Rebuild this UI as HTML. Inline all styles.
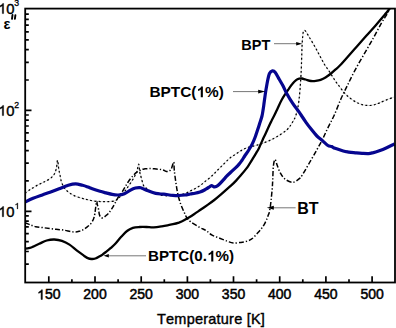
<!DOCTYPE html><html><head><meta charset="utf-8"><style>html,body{margin:0;padding:0;background:#fff;width:396px;height:328px;overflow:hidden}svg{display:block}text{font-family:"Liberation Sans",sans-serif;font-kerning:none}</style></head><body>
<svg width="396" height="328" viewBox="0 0 396 328">
<defs><clipPath id="c"><rect x="25.2" y="8.6" width="369.8" height="273.9"/></clipPath></defs>
<g clip-path="url(#c)" fill="none" stroke-linejoin="round">
<path d="M25.0 193.2 C25.8 192.7 28.1 190.9 29.5 190.0 C30.9 189.1 31.7 188.6 33.1 187.8 C34.5 187.0 36.2 185.8 37.7 185.0 C39.2 184.2 40.9 183.5 42.3 182.8 C43.7 182.1 44.6 181.8 46.0 181.0 C47.4 180.2 49.5 179.2 50.9 178.0 C52.3 176.8 53.6 175.3 54.5 173.7 C55.4 172.1 55.9 170.4 56.4 168.2 C56.9 166.0 57.2 160.1 57.6 160.3 C58.0 160.5 58.4 167.0 58.8 169.4 C59.2 171.8 59.6 172.9 60.0 174.9 C60.4 176.9 60.7 179.4 61.2 181.2 C61.7 183.0 62.4 184.3 63.1 185.7 C63.8 187.1 64.5 188.3 65.5 189.5 C66.5 190.7 67.7 191.5 69.2 192.6 C70.7 193.7 72.5 194.9 74.7 195.9 C76.9 196.9 80.3 197.8 82.5 198.4 C84.7 199.1 85.8 199.3 88.0 199.8 C90.2 200.3 93.2 201.0 96.0 201.3 C98.8 201.6 102.3 201.6 105.0 201.6 C107.7 201.6 110.2 201.5 112.0 201.3 C113.8 201.1 114.8 200.9 116.0 200.3 C117.2 199.7 117.9 198.8 119.1 197.7 C120.3 196.6 121.7 195.0 123.0 193.5 C124.3 192.0 125.1 190.8 126.8 188.5 C128.4 186.2 131.2 182.2 132.9 179.4 C134.6 176.6 135.7 174.4 136.7 171.8 C137.7 169.2 138.2 164.1 138.7 164.1 C139.2 164.1 139.3 169.5 139.7 171.8 C140.1 174.1 140.7 175.6 141.3 177.9 C141.9 180.2 142.8 183.8 143.5 185.5 C144.2 187.2 144.9 187.0 145.8 187.8 C146.7 188.6 147.3 189.2 149.1 190.2 C150.9 191.2 153.8 193.0 156.5 193.9 C159.2 194.8 162.2 195.5 165.6 195.7 C168.9 195.9 173.4 195.5 176.6 195.2 C179.8 194.9 182.6 194.2 184.6 193.7 C186.6 193.2 187.0 192.6 188.3 192.0 C189.6 191.4 191.1 190.6 192.5 189.9 C193.9 189.2 195.4 188.4 196.8 187.6 C198.2 186.8 199.4 186.1 200.8 185.1 C202.2 184.1 203.5 182.7 205.0 181.5 C206.5 180.3 208.4 179.0 209.9 177.7 C211.4 176.4 212.7 175.1 213.9 173.9 C215.1 172.7 216.0 171.7 217.2 170.5 C218.4 169.3 219.7 168.1 220.9 166.9 C222.1 165.7 223.2 164.6 224.4 163.4 C225.6 162.2 226.8 161.0 227.9 159.9 C229.1 158.8 230.1 157.9 231.3 157.0 C232.5 156.1 233.7 155.4 235.0 154.6 C236.3 153.8 237.7 152.7 239.0 151.9 C240.3 151.1 241.3 150.4 242.8 149.7 C244.3 148.9 245.5 148.2 248.0 147.4 C250.5 146.6 254.6 145.9 257.8 144.9 C261.1 143.9 264.2 142.8 267.5 141.4 C270.8 140.0 274.1 138.4 277.3 136.5 C280.6 134.6 284.6 131.9 287.0 129.7 C289.4 127.4 290.5 125.5 292.0 123.0 C293.5 120.5 294.8 118.8 296.0 115.0 C297.2 111.2 298.2 106.7 299.0 100.0 C299.8 93.3 300.4 85.0 301.0 75.0 C301.6 65.0 301.8 47.4 302.4 40.0 C303.0 32.6 303.2 30.8 304.4 30.4 C305.5 29.9 307.5 34.5 309.3 37.3 C311.1 40.1 313.4 44.0 315.1 47.0 C316.8 50.0 318.1 52.7 319.7 55.6 C321.3 58.5 322.9 61.8 324.5 64.5 C326.1 67.2 327.8 69.1 329.4 71.6 C331.0 74.1 332.7 77.0 334.3 79.4 C335.9 81.8 337.4 83.9 339.2 86.2 C341.0 88.5 342.9 91.2 344.9 93.4 C346.9 95.6 349.1 97.4 351.3 99.1 C353.6 100.8 356.3 102.3 358.4 103.3 C360.5 104.3 362.1 104.6 364.0 105.0 C365.9 105.4 367.9 105.6 369.7 105.5 C371.5 105.4 373.4 105.0 375.0 104.5 C376.6 104.0 377.7 103.6 379.6 102.8 C381.6 102.0 384.3 100.8 386.7 99.8 C389.1 98.8 392.8 97.5 394.0 97.0" stroke="#bbb" stroke-width="0.6"/>
<path d="M25.0 193.2 C25.8 192.7 28.1 190.9 29.5 190.0 C30.9 189.1 31.7 188.6 33.1 187.8 C34.5 187.0 36.2 185.8 37.7 185.0 C39.2 184.2 40.9 183.5 42.3 182.8 C43.7 182.1 44.6 181.8 46.0 181.0 C47.4 180.2 49.5 179.2 50.9 178.0 C52.3 176.8 53.6 175.3 54.5 173.7 C55.4 172.1 55.9 170.4 56.4 168.2 C56.9 166.0 57.2 160.1 57.6 160.3 C58.0 160.5 58.4 167.0 58.8 169.4 C59.2 171.8 59.6 172.9 60.0 174.9 C60.4 176.9 60.7 179.4 61.2 181.2 C61.7 183.0 62.4 184.3 63.1 185.7 C63.8 187.1 64.5 188.3 65.5 189.5 C66.5 190.7 67.7 191.5 69.2 192.6 C70.7 193.7 72.5 194.9 74.7 195.9 C76.9 196.9 80.3 197.8 82.5 198.4 C84.7 199.1 85.8 199.3 88.0 199.8 C90.2 200.3 93.2 201.0 96.0 201.3 C98.8 201.6 102.3 201.6 105.0 201.6 C107.7 201.6 110.2 201.5 112.0 201.3 C113.8 201.1 114.8 200.9 116.0 200.3 C117.2 199.7 117.9 198.8 119.1 197.7 C120.3 196.6 121.7 195.0 123.0 193.5 C124.3 192.0 125.1 190.8 126.8 188.5 C128.4 186.2 131.2 182.2 132.9 179.4 C134.6 176.6 135.7 174.4 136.7 171.8 C137.7 169.2 138.2 164.1 138.7 164.1 C139.2 164.1 139.3 169.5 139.7 171.8 C140.1 174.1 140.7 175.6 141.3 177.9 C141.9 180.2 142.8 183.8 143.5 185.5 C144.2 187.2 144.9 187.0 145.8 187.8 C146.7 188.6 147.3 189.2 149.1 190.2 C150.9 191.2 153.8 193.0 156.5 193.9 C159.2 194.8 162.2 195.5 165.6 195.7 C168.9 195.9 173.4 195.5 176.6 195.2 C179.8 194.9 182.6 194.2 184.6 193.7 C186.6 193.2 187.0 192.6 188.3 192.0 C189.6 191.4 191.1 190.6 192.5 189.9 C193.9 189.2 195.4 188.4 196.8 187.6 C198.2 186.8 199.4 186.1 200.8 185.1 C202.2 184.1 203.5 182.7 205.0 181.5 C206.5 180.3 208.4 179.0 209.9 177.7 C211.4 176.4 212.7 175.1 213.9 173.9 C215.1 172.7 216.0 171.7 217.2 170.5 C218.4 169.3 219.7 168.1 220.9 166.9 C222.1 165.7 223.2 164.6 224.4 163.4 C225.6 162.2 226.8 161.0 227.9 159.9 C229.1 158.8 230.1 157.9 231.3 157.0 C232.5 156.1 233.7 155.4 235.0 154.6 C236.3 153.8 237.7 152.7 239.0 151.9 C240.3 151.1 241.3 150.4 242.8 149.7 C244.3 148.9 245.5 148.2 248.0 147.4 C250.5 146.6 254.6 145.9 257.8 144.9 C261.1 143.9 264.2 142.8 267.5 141.4 C270.8 140.0 274.1 138.4 277.3 136.5 C280.6 134.6 284.6 131.9 287.0 129.7 C289.4 127.4 290.5 125.5 292.0 123.0 C293.5 120.5 294.8 118.8 296.0 115.0 C297.2 111.2 298.2 106.7 299.0 100.0 C299.8 93.3 300.4 85.0 301.0 75.0 C301.6 65.0 301.8 47.4 302.4 40.0 C303.0 32.6 303.2 30.8 304.4 30.4 C305.5 29.9 307.5 34.5 309.3 37.3 C311.1 40.1 313.4 44.0 315.1 47.0 C316.8 50.0 318.1 52.7 319.7 55.6 C321.3 58.5 322.9 61.8 324.5 64.5 C326.1 67.2 327.8 69.1 329.4 71.6 C331.0 74.1 332.7 77.0 334.3 79.4 C335.9 81.8 337.4 83.9 339.2 86.2 C341.0 88.5 342.9 91.2 344.9 93.4 C346.9 95.6 349.1 97.4 351.3 99.1 C353.6 100.8 356.3 102.3 358.4 103.3 C360.5 104.3 362.1 104.6 364.0 105.0 C365.9 105.4 367.9 105.6 369.7 105.5 C371.5 105.4 373.4 105.0 375.0 104.5 C376.6 104.0 377.7 103.6 379.6 102.8 C381.6 102.0 384.3 100.8 386.7 99.8 C389.1 98.8 392.8 97.5 394.0 97.0" stroke="#000" stroke-width="1.25" stroke-dasharray="1.9 2.4"/>
<path d="M25.0 222.8 C25.8 223.1 28.1 224.0 29.9 224.7 C31.7 225.3 33.4 226.2 35.7 226.7 C38.0 227.2 40.6 227.3 43.5 227.7 C46.4 228.1 50.0 228.6 53.3 229.0 C56.5 229.4 59.5 229.5 63.0 230.0 C66.5 230.5 71.2 231.8 74.1 232.0 C77.0 232.2 78.6 231.4 80.2 231.0 C81.8 230.6 82.5 230.2 83.5 229.6 C84.5 229.0 85.4 228.3 86.3 227.6 C87.2 226.9 88.2 226.2 89.0 225.5 C89.8 224.8 90.6 224.0 91.3 223.1 C92.0 222.2 92.5 221.1 93.0 220.2 C93.5 219.3 93.7 218.5 94.0 217.5 C94.3 216.5 94.5 215.6 94.8 214.0 C95.1 212.4 95.3 210.1 95.6 208.0 C95.9 205.9 96.3 202.0 96.6 201.5 C96.9 201.0 97.1 203.5 97.4 204.8 C97.7 206.1 98.3 207.9 98.6 209.5 C98.9 211.1 99.0 213.1 99.3 214.3 C99.6 215.6 100.0 216.4 100.6 217.0 C101.2 217.6 101.9 218.1 102.9 217.8 C103.9 217.5 105.4 216.1 106.5 215.2 C107.6 214.3 108.5 213.3 109.3 212.3 C110.1 211.3 110.6 210.6 111.5 209.2 C112.4 207.8 113.5 206.0 114.6 204.0 C115.7 202.0 117.1 199.1 118.3 197.1 C119.5 195.1 120.8 194.0 122.0 192.2 C123.2 190.4 124.4 188.1 125.6 186.1 C126.8 184.1 128.0 182.0 129.3 180.2 C130.6 178.4 132.2 176.7 133.3 175.4 C134.5 174.2 135.3 173.4 136.2 172.7 C137.1 172.0 137.9 171.6 138.8 171.1 C139.7 170.6 140.7 169.9 141.7 169.5 C142.7 169.1 143.8 169.0 145.0 168.8 C146.2 168.7 147.4 168.6 148.7 168.6 C150.0 168.6 150.5 168.5 152.7 168.7 C154.9 168.9 159.4 169.2 161.9 169.7 C164.4 170.2 165.9 171.7 167.4 171.6 C168.9 171.5 170.1 170.8 171.1 169.2 C172.1 167.6 173.2 161.8 173.7 162.0 C174.2 162.2 173.9 166.9 174.3 170.5 C174.7 174.1 175.4 179.4 176.0 183.4 C176.6 187.4 177.1 191.0 177.9 194.4 C178.7 197.8 179.5 200.7 180.6 203.8 C181.7 206.9 183.3 210.4 184.4 212.8 C185.5 215.2 185.9 216.5 187.0 218.0 C188.1 219.5 188.8 220.4 191.0 222.0 C193.2 223.6 197.5 226.2 200.0 227.6 C202.5 229.0 204.1 229.3 206.1 230.6 C208.1 231.9 209.8 233.9 212.1 235.2 C214.4 236.5 217.2 237.2 219.7 238.2 C222.2 239.2 225.0 240.4 227.3 241.2 C229.6 242.0 231.0 242.8 233.3 243.0 C235.6 243.2 239.0 242.6 240.9 242.4 C242.8 242.2 243.7 242.0 245.0 241.7 C246.3 241.4 247.6 241.0 248.7 240.6 C249.8 240.2 250.5 239.8 251.4 239.2 C252.3 238.6 253.0 238.1 254.1 237.0 C255.2 235.9 256.7 234.0 257.8 232.8 C258.9 231.6 259.7 230.7 260.6 229.6 C261.5 228.5 262.6 227.1 263.3 226.0 C264.1 224.9 264.5 224.0 265.1 222.8 C265.7 221.6 266.5 220.0 267.0 218.7 C267.5 217.4 267.9 216.1 268.3 215.0 C268.7 213.9 269.0 213.8 269.3 212.3 C269.6 210.8 270.1 208.1 270.4 206.0 C270.7 203.9 270.8 202.7 271.1 200.0 C271.4 197.3 271.8 193.2 272.1 190.0 C272.4 186.8 272.5 184.5 272.7 180.5 C272.9 176.5 273.0 169.5 273.4 166.0 C273.8 162.5 274.4 159.6 275.0 159.5 C275.6 159.4 276.3 163.0 277.2 165.2 C278.1 167.4 279.0 170.6 280.3 172.9 C281.6 175.2 282.9 177.4 284.9 179.0 C286.9 180.6 290.2 182.3 292.5 182.3 C294.8 182.3 297.0 180.4 298.6 179.2 C300.2 178.0 300.5 177.8 302.3 175.0 C304.1 172.2 307.2 166.7 309.6 162.5 C312.0 158.3 314.8 153.5 316.9 149.7 C319.0 145.9 320.6 143.3 322.4 139.7 C324.2 136.0 325.9 131.9 327.9 127.8 C329.9 123.7 332.1 119.9 334.3 115.0 C336.5 110.1 338.9 103.4 341.1 98.5 C343.3 93.6 345.1 90.2 347.4 85.5 C349.7 80.8 352.0 75.8 354.8 70.6 C357.6 65.4 360.9 59.7 364.0 54.3 C367.1 48.9 370.4 43.3 373.3 38.1 C376.2 32.9 379.1 27.2 381.4 23.1 C383.7 19.1 385.8 16.2 387.2 13.8 C388.6 11.4 389.5 9.4 390.0 8.5" stroke="#000" stroke-width="1.5" stroke-dasharray="5 2 1.3 2"/>
<path d="M25.0 248.6 C25.8 248.5 28.5 248.1 29.9 247.8 C31.2 247.5 31.6 247.3 33.1 246.6 C34.7 245.9 36.9 244.8 39.2 243.8 C41.5 242.8 44.2 241.2 46.7 240.5 C49.2 239.8 51.8 239.4 54.3 239.5 C56.8 239.6 59.4 240.0 61.9 240.8 C64.4 241.7 67.0 243.0 69.5 244.6 C72.0 246.2 74.6 248.8 77.0 250.6 C79.4 252.4 82.2 254.4 84.0 255.7 C85.8 256.9 86.5 257.6 87.8 258.1 C89.1 258.7 90.3 258.9 91.6 259.0 C92.9 259.1 94.1 258.9 95.4 258.5 C96.7 258.1 98.0 257.3 99.2 256.6 C100.5 255.9 101.7 255.2 102.9 254.3 C104.2 253.4 105.4 252.3 106.7 251.3 C108.0 250.3 109.1 249.5 110.5 248.2 C111.9 246.9 113.5 245.6 115.3 243.7 C117.1 241.8 119.2 238.9 121.2 236.8 C123.2 234.7 125.0 232.5 127.0 231.0 C128.9 229.5 130.8 228.5 132.9 227.8 C135.0 227.1 137.2 227.1 139.5 227.0 C141.8 226.9 144.1 226.9 146.5 227.0 C148.9 227.1 151.1 227.5 153.7 227.4 C156.2 227.3 159.5 226.7 161.8 226.3 C164.1 226.0 165.6 225.7 167.5 225.3 C169.4 225.0 171.1 224.6 173.0 224.2 C174.9 223.8 177.1 223.2 178.9 222.6 C180.7 221.9 182.5 221.1 184.0 220.3 C185.5 219.5 186.3 219.0 188.0 218.0 C189.7 217.0 191.9 215.7 194.0 214.3 C196.1 212.9 198.2 211.4 200.5 209.8 C202.8 208.2 205.7 206.2 208.0 204.6 C210.3 203.0 212.0 201.8 214.3 200.0 C216.6 198.2 218.7 196.4 221.6 193.9 C224.5 191.4 229.1 187.4 231.5 185.2 C233.9 183.0 234.6 182.2 236.1 180.6 C237.6 179.0 238.9 177.6 240.6 175.6 C242.3 173.6 244.9 170.5 246.5 168.4 C248.1 166.3 248.8 165.0 250.0 163.2 C251.2 161.4 252.3 159.5 253.4 157.7 C254.5 155.9 255.6 154.0 256.4 152.6 C257.2 151.2 257.6 150.8 258.3 149.5 C259.0 148.2 259.6 146.8 260.3 145.1 C261.1 143.4 262.0 141.3 262.8 139.5 C263.6 137.7 264.4 136.2 265.4 134.0 C266.4 131.8 267.8 128.7 268.8 126.5 C269.8 124.3 270.5 122.8 271.4 121.1 C272.3 119.3 273.1 117.7 274.0 116.0 C274.9 114.3 275.8 112.4 276.5 110.8 C277.2 109.2 277.7 108.3 278.5 106.5 C279.3 104.7 280.4 102.2 281.5 100.2 C282.6 98.2 283.9 96.2 285.1 94.3 C286.3 92.4 287.6 90.5 288.8 88.8 C290.0 87.0 291.3 85.2 292.5 83.8 C293.7 82.3 295.0 81.0 296.1 80.1 C297.2 79.2 298.2 78.9 299.2 78.6 C300.2 78.3 300.9 78.3 302.0 78.5 C303.1 78.7 304.1 79.1 305.6 79.5 C307.1 79.9 309.2 80.8 310.9 81.0 C312.6 81.2 314.2 81.1 315.8 80.9 C317.4 80.7 319.0 80.5 320.6 79.9 C322.2 79.3 323.9 78.5 325.5 77.5 C327.1 76.5 328.8 75.3 330.4 74.0 C332.0 72.7 333.7 71.2 335.3 69.7 C336.9 68.2 338.0 67.5 340.1 65.3 C342.2 63.1 345.0 59.9 347.8 56.7 C350.6 53.5 354.0 49.7 357.1 46.2 C360.2 42.7 363.2 39.3 366.3 35.8 C369.4 32.3 372.9 28.5 375.6 25.4 C378.3 22.3 380.5 19.8 382.6 17.3 C384.7 14.8 387.2 11.9 388.4 10.3 C389.6 8.7 389.7 8.0 390.0 7.5" stroke="#000" stroke-width="2.3"/>
<path d="M25.0 202.2 C26.4 201.5 30.2 199.5 33.1 198.3 C36.0 197.1 39.5 195.9 42.3 194.9 C45.1 193.9 47.2 193.3 50.0 192.3 C52.8 191.3 56.1 190.0 59.1 188.8 C62.1 187.6 65.5 186.1 68.3 185.3 C71.0 184.5 73.2 183.9 75.6 183.9 C78.0 183.9 80.4 184.8 82.5 185.3 C84.6 185.8 86.4 186.5 88.0 187.1 C89.6 187.7 90.3 188.1 92.3 188.8 C94.3 189.5 97.7 190.6 100.0 191.3 C102.3 192.0 104.1 192.4 106.1 192.9 C108.1 193.4 110.2 194.1 112.2 194.4 C114.2 194.8 116.3 195.1 118.3 195.0 C120.3 194.9 122.4 194.6 124.4 193.8 C126.4 193.0 128.7 191.1 130.5 190.1 C132.3 189.1 133.8 188.4 135.4 188.0 C137.0 187.6 138.9 187.7 140.0 187.7 C141.1 187.7 140.7 187.7 142.0 188.2 C143.3 188.7 145.8 189.9 148.1 190.8 C150.4 191.7 153.1 192.8 155.7 193.4 C158.3 194.0 160.9 193.9 163.8 194.2 C166.7 194.5 170.4 195.1 172.9 195.3 C175.4 195.5 176.9 195.6 178.9 195.5 C180.9 195.4 183.1 195.2 185.0 195.0 C186.9 194.8 188.6 194.3 190.3 194.0 C192.0 193.7 193.4 193.5 195.0 193.2 C196.6 192.9 198.4 192.5 200.0 192.0 C201.6 191.5 203.1 190.8 204.5 190.0 C205.9 189.2 207.3 188.2 208.5 187.5 C209.7 186.8 210.5 185.8 211.5 185.7 C212.5 185.6 213.6 186.9 214.7 186.9 C215.8 186.9 216.4 186.8 217.9 185.6 C219.4 184.4 222.0 181.4 223.4 179.9 C224.8 178.4 225.0 177.8 226.2 176.6 C227.4 175.4 229.1 173.8 230.5 172.5 C231.9 171.2 233.3 169.9 234.7 168.6 C236.1 167.3 237.5 166.0 238.7 164.6 C239.9 163.2 240.9 161.8 242.0 160.3 C243.1 158.8 243.9 157.1 245.0 155.5 C246.1 153.9 247.3 152.4 248.5 150.5 C249.7 148.6 251.2 146.2 252.3 143.9 C253.4 141.7 254.3 139.4 255.2 137.0 C256.1 134.6 257.0 131.6 257.8 129.3 C258.6 127.0 259.1 125.2 259.8 123.0 C260.5 120.8 261.4 118.4 262.0 116.0 C262.6 113.6 262.9 110.8 263.3 108.5 C263.7 106.2 263.8 104.8 264.2 102.0 C264.6 99.2 265.1 95.5 265.6 92.0 C266.2 88.5 266.9 84.4 267.5 81.3 C268.1 78.2 268.7 75.2 269.5 73.5 C270.3 71.8 271.4 71.1 272.4 70.9 C273.4 70.7 274.2 71.1 275.3 72.5 C276.4 73.9 277.9 77.0 279.2 79.3 C280.5 81.6 281.8 83.6 283.1 86.1 C284.4 88.5 285.4 91.1 287.0 94.0 C288.6 96.9 290.9 100.8 292.9 103.7 C294.8 106.6 297.2 109.5 298.7 111.5 C300.2 113.5 300.5 114.2 301.7 116.0 C302.9 117.8 304.4 120.0 306.0 122.3 C307.6 124.6 309.7 127.3 311.5 129.6 C313.3 131.9 315.1 134.2 316.9 136.0 C318.7 137.8 320.6 139.0 322.4 140.6 C324.2 142.2 326.4 144.5 327.9 145.5 C329.4 146.5 330.4 146.1 331.6 146.6 C332.8 147.1 333.4 147.7 335.0 148.3 C336.6 148.9 339.1 149.7 341.0 150.3 C342.9 150.9 344.6 151.3 346.3 151.7 C348.0 152.0 349.3 152.2 351.0 152.4 C352.7 152.6 354.6 152.7 356.4 152.9 C358.2 153.1 360.0 153.3 362.0 153.4 C364.0 153.5 366.6 153.7 368.5 153.6 C370.4 153.5 371.8 153.0 373.5 152.6 C375.2 152.2 376.4 151.8 378.6 151.0 C380.8 150.2 384.1 148.9 386.7 147.7 C389.3 146.5 393.2 144.6 394.5 144.0" stroke="#06068f" stroke-width="3.2"/>
</g>
<rect x="25.2" y="8.6" width="369.8" height="273.9" fill="none" stroke="#000" stroke-width="1.8"/>
<path d="M48.8 282.5 V276.2 M95.0 282.5 V276.2 M141.2 282.5 V276.2 M187.4 282.5 V276.2 M233.5 282.5 V276.2 M279.7 282.5 V276.2 M325.9 282.5 V276.2 M372.1 282.5 V276.2 M71.9 282.5 V279.2 M118.1 282.5 V279.2 M164.3 282.5 V279.2 M210.4 282.5 V279.2 M256.6 282.5 V279.2 M302.8 282.5 V279.2 M349.0 282.5 V279.2 M25.2 264.1 H28.8 M25.2 251.5 H28.8 M25.2 241.7 H28.8 M25.2 233.7 H28.8 M25.2 226.9 H28.8 M25.2 221.1 H28.8 M25.2 215.9 H28.8 M25.2 211.3 H31.5 M25.2 180.9 H28.8 M25.2 163.2 H28.8 M25.2 150.6 H28.8 M25.2 140.8 H28.8 M25.2 132.8 H28.8 M25.2 126.0 H28.8 M25.2 120.2 H28.8 M25.2 115.0 H28.8 M25.2 110.4 H31.5 M25.2 80.0 H28.8 M25.2 62.3 H28.8 M25.2 49.7 H28.8 M25.2 39.9 H28.8 M25.2 31.9 H28.8 M25.2 25.1 H28.8 M25.2 19.3 H28.8 M25.2 14.1 H28.8" stroke="#000" stroke-width="1.7" fill="none"/>
<path d="M274.0 43.7 H297.0" stroke="#777" stroke-width="1"/><path d="M302.2 43.7 L296.2 41.9 L296.2 45.5 Z" fill="#000"/>
<path d="M233.0 91.6 H259.0" stroke="#777" stroke-width="1"/><path d="M265.2 91.6 L258.2 89.7 L258.2 93.5 Z" fill="#000"/>
<path d="M273.0 207.8 H295.6" stroke="#777" stroke-width="1"/><path d="M266.8 207.8 L273.8 205.8 L273.8 209.8 Z" fill="#000"/>
<path d="M108.0 255.8 H146.0" stroke="#777" stroke-width="1"/><path d="M103.6 255.8 L108.8 254.0 L108.8 257.6 Z" fill="#000"/>
<g transform="translate(241.30,49.90) scale(1.000,1)" fill="#000"><text x="0.00" y="0" font-size="14.50" font-weight="bold">BPT</text></g>
<g transform="translate(149.40,97.20) scale(1.000,1)" fill="#000"><text x="0.00" y="0" font-size="15.40" font-weight="bold">BPTC(</text><path transform="translate(47.05,0) scale(0.00752,-0.00752)" d="M854 0L573 0L573 1013C470 922 349 853 211 809L211 1053C284 1076 363 1119 449 1183C535 1247 594 1322 626 1409L854 1409Z"/><text x="55.61" y="0" font-size="15.40" font-weight="bold">%)</text></g>
<g transform="translate(297.20,213.90) scale(1.000,1)" fill="#000"><text x="0.00" y="0" font-size="16.00" font-weight="bold">BT</text></g>
<g transform="translate(148.00,261.40) scale(0.985,1)" fill="#000"><text x="0.00" y="0" font-size="15.40" font-weight="bold">BPTC(0.</text><path transform="translate(59.89,0) scale(0.00752,-0.00752)" d="M854 0L573 0L573 1013C470 922 349 853 211 809L211 1053C284 1076 363 1119 449 1183C535 1247 594 1322 626 1409L854 1409Z"/><text x="68.46" y="0" font-size="15.40" font-weight="bold">%)</text></g>
<g transform="translate(37.12,299.40) scale(1.000,1)" fill="#000" stroke="#000" stroke-width="0.50"><path transform="translate(0.00,0) scale(0.00684,-0.00684)" d="M763 0L583 0L583 1098C540 1058 483 1018 413 979C342 940 279 910 223 891L223 1057C324 1102 412 1158 487 1222C562 1286 615 1348 646 1409L763 1409Z" vector-effect="non-scaling-stroke"/><text x="7.79" y="0" font-size="14.00">50</text></g>
<g transform="translate(83.31,299.40) scale(1.000,1)" fill="#000" stroke="#000" stroke-width="0.50"><text x="0.00" y="0" font-size="14.00">200</text></g>
<g transform="translate(129.49,299.40) scale(1.000,1)" fill="#000" stroke="#000" stroke-width="0.50"><text x="0.00" y="0" font-size="14.00">250</text></g>
<g transform="translate(175.68,299.40) scale(1.000,1)" fill="#000" stroke="#000" stroke-width="0.50"><text x="0.00" y="0" font-size="14.00">300</text></g>
<g transform="translate(221.86,299.40) scale(1.000,1)" fill="#000" stroke="#000" stroke-width="0.50"><text x="0.00" y="0" font-size="14.00">350</text></g>
<g transform="translate(268.05,299.40) scale(1.000,1)" fill="#000" stroke="#000" stroke-width="0.50"><text x="0.00" y="0" font-size="14.00">400</text></g>
<g transform="translate(314.23,299.40) scale(1.000,1)" fill="#000" stroke="#000" stroke-width="0.50"><text x="0.00" y="0" font-size="14.00">450</text></g>
<g transform="translate(360.42,299.40) scale(1.000,1)" fill="#000" stroke="#000" stroke-width="0.50"><text x="0.00" y="0" font-size="14.00">500</text></g>
<g transform="translate(157.00,324.10) scale(1.000,1)" fill="#000" stroke="#000" stroke-width="0.40"><text x="0.00" y="0" font-size="14.50" letter-spacing="0.22">Temperature [K]</text></g>
<g transform="translate(-1.90,13.60) scale(1.000,1)" fill="#000" stroke="#000" stroke-width="0.40"><path transform="translate(0.00,0) scale(0.00723,-0.00723)" d="M763 0L583 0L583 1098C540 1058 483 1018 413 979C342 940 279 910 223 891L223 1057C324 1102 412 1158 487 1222C562 1286 615 1348 646 1409L763 1409Z" vector-effect="non-scaling-stroke"/><text x="8.23" y="0" font-size="14.80">0</text></g>
<g transform="translate(14.20,5.80) scale(1.000,1)" fill="#000" stroke="#000" stroke-width="0.30"><text x="0.00" y="0" font-size="8.70">3</text></g>
<g transform="translate(-1.90,115.60) scale(1.000,1)" fill="#000" stroke="#000" stroke-width="0.40"><path transform="translate(0.00,0) scale(0.00723,-0.00723)" d="M763 0L583 0L583 1098C540 1058 483 1018 413 979C342 940 279 910 223 891L223 1057C324 1102 412 1158 487 1222C562 1286 615 1348 646 1409L763 1409Z" vector-effect="non-scaling-stroke"/><text x="8.23" y="0" font-size="14.80">0</text></g>
<g transform="translate(14.20,107.80) scale(1.000,1)" fill="#000" stroke="#000" stroke-width="0.30"><text x="0.00" y="0" font-size="8.70">2</text></g>
<g transform="translate(-1.90,216.70) scale(1.000,1)" fill="#000" stroke="#000" stroke-width="0.40"><path transform="translate(0.00,0) scale(0.00723,-0.00723)" d="M763 0L583 0L583 1098C540 1058 483 1018 413 979C342 940 279 910 223 891L223 1057C324 1102 412 1158 487 1222C562 1286 615 1348 646 1409L763 1409Z" vector-effect="non-scaling-stroke"/><text x="8.23" y="0" font-size="14.80">0</text></g>
<g transform="translate(14.60,208.90) scale(1.000,1)" fill="#000" stroke="#000" stroke-width="0.30"><path transform="translate(0.00,0) scale(0.00425,-0.00425)" d="M763 0L583 0L583 1098C540 1058 483 1018 413 979C342 940 279 910 223 891L223 1057C324 1102 412 1158 487 1222C562 1286 615 1348 646 1409L763 1409Z" vector-effect="non-scaling-stroke"/></g>
<text x="3.4" y="28.5" font-size="14.6" font-weight="bold">&#949;</text>
<path d="M12.5 14.9 L12 18.8 M15.4 15.2 L14.9 18.8" stroke="#000" stroke-width="1.9" stroke-linecap="round" fill="none"/>
</svg></body></html>
